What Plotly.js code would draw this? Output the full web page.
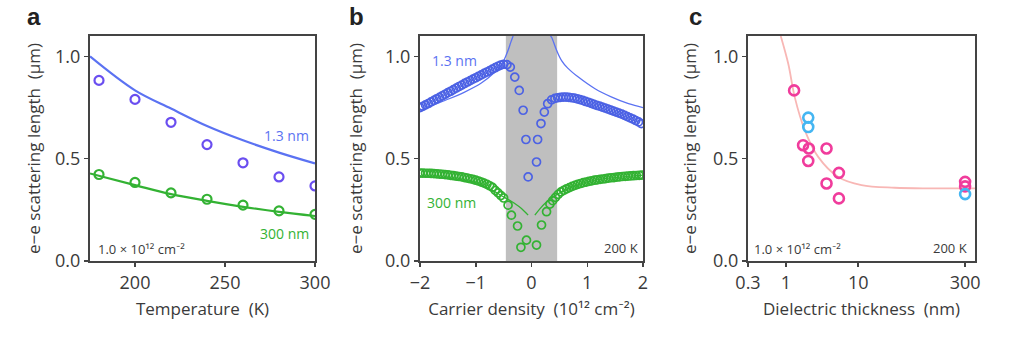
<!DOCTYPE html>
<html>
<head>
<meta charset="utf-8">
<script src="https://cdn.plot.ly/plotly-3.0.1.min.js"></script>
<style>html,body{margin:0;padding:0;background:#fff;}#chart{width:1023px;height:344px;}</style>
</head>
<body>
<div id="chart"></div>
<script>
// ---------- Panel a: temperature dependence ----------
const tempA = [180, 200, 220, 240, 260, 280, 300];
const blueA = [0.883, 0.790, 0.678, 0.569, 0.480, 0.411, 0.367];
const greenA = [0.423, 0.384, 0.333, 0.302, 0.273, 0.245, 0.228];
const fitTempA = [175, 200, 220, 240, 260, 280, 300];
const blueFitA = [1.000, 0.834, 0.745, 0.660, 0.590, 0.530, 0.477];
const greenFitA = [0.428, 0.371, 0.327, 0.294, 0.265, 0.240, 0.220];
const tickTempA = [200, 250, 300];

// ---------- Panel b: carrier density dependence ----------
const densBlueB = [-2.00,-1.95,-1.90,-1.85,-1.80,-1.75,-1.70,-1.65,-1.60,-1.55,-1.50,-1.45,-1.40,-1.35,-1.30,-1.25,-1.20,-1.15,-1.10,-1.05,-1.00,-0.95,-0.90,-0.85,-0.80,-0.75,-0.70,-0.65,-0.60,-0.55,-0.50,
  -0.44,-0.38,-0.30,-0.22,-0.15,-0.10,-0.06,0.09,0.11,0.17,0.23,0.29,0.36,
  0.42,0.47,0.52,0.57,0.62,0.67,0.72,0.77,0.82,0.87,0.92,0.97,1.02,1.07,1.12,1.17,1.22,1.27,1.32,1.37,1.42,1.47,1.52,1.57,1.62,1.67,1.72,1.77,1.82,1.87,1.92,1.97];
const lenBlueB = [0.750,0.756,0.763,0.770,0.778,0.785,0.793,0.800,0.808,0.815,0.823,0.830,0.838,0.845,0.853,0.860,0.868,0.875,0.882,0.889,0.896,0.903,0.910,0.917,0.924,0.931,0.938,0.945,0.952,0.958,0.962,
  0.960,0.948,0.899,0.834,0.737,0.594,0.411,0.484,0.594,0.672,0.728,0.769,0.788,
  0.795,0.798,0.800,0.801,0.801,0.800,0.798,0.796,0.793,0.789,0.785,0.780,0.776,0.771,0.766,0.761,0.757,0.752,0.748,0.743,0.738,0.733,0.728,0.723,0.718,0.712,0.706,0.700,0.694,0.687,0.680,0.672];
const densGreenB = [-2.00,-1.95,-1.90,-1.85,-1.80,-1.75,-1.70,-1.65,-1.60,-1.55,-1.50,-1.45,-1.40,-1.35,-1.30,-1.25,-1.20,-1.15,-1.10,-1.05,-1.00,-0.95,-0.90,-0.85,-0.80,-0.75,-0.70,-0.65,-0.60,-0.55,-0.50,
  -0.42,-0.36,-0.25,-0.19,-0.09,0.09,0.18,0.27,
  0.33,0.38,0.43,0.48,0.53,0.58,0.63,0.68,0.73,0.78,0.83,0.88,0.93,0.98,1.03,1.08,1.13,1.18,1.23,1.28,1.33,1.38,1.43,1.48,1.53,1.58,1.63,1.68,1.73,1.78,1.83,1.88,1.93,1.98];
const lenGreenB = [0.430,0.430,0.429,0.429,0.428,0.427,0.426,0.425,0.424,0.422,0.421,0.419,0.417,0.415,0.413,0.411,0.408,0.405,0.402,0.399,0.395,0.391,0.386,0.381,0.375,0.368,0.360,0.345,0.333,0.320,0.308,
  0.273,0.224,0.171,0.067,0.102,0.078,0.176,0.241,
  0.278,0.295,0.311,0.326,0.338,0.346,0.353,0.359,0.365,0.370,0.375,0.379,0.383,0.386,0.389,0.392,0.395,0.397,0.399,0.401,0.403,0.405,0.407,0.408,0.410,0.411,0.413,0.414,0.415,0.416,0.417,0.418,0.419,0.420];
const fitDensBlueLeft = [-2.00,-1.60,-1.20,-0.90,-0.66,-0.55,-0.48,-0.42,-0.37,-0.33];
const fitBlueLeft = [0.737,0.780,0.826,0.870,0.923,0.955,0.990,1.030,1.070,1.100];
const fitDensBlueRight = [0.34,0.36,0.45,0.54,0.65,0.84,1.14,1.44,1.74,2.00];
const fitBlueRight = [1.100,1.094,1.030,0.980,0.943,0.899,0.842,0.801,0.769,0.750];
const fitDensGreenLeft = [-2.00,-1.50,-1.00,-0.70,-0.53,-0.40,-0.30,-0.18,-0.06];
const fitGreenLeft = [0.415,0.405,0.383,0.345,0.318,0.298,0.281,0.257,0.224];
const fitDensGreenRight = [0.06,0.15,0.24,0.38,0.54,0.80,1.14,1.50,2.00];
const fitGreenRight = [0.224,0.255,0.281,0.312,0.338,0.370,0.395,0.408,0.420];
const gapEdgesB = [-0.46, 0.46];
const tickDensB = [-2, -1, 0, 1, 2];

// ---------- Panel c: dielectric thickness dependence ----------
const thickPink = [1.30, 1.73, 2.08, 2.04, 3.65, 3.65, 5.41, 5.41, 300, 300];
const lenPink = [0.834, 0.566, 0.550, 0.489, 0.550, 0.379, 0.431, 0.306, 0.387, 0.365];
const thickCyan = [2.04, 2.04, 300];
const lenCyan = [0.701, 0.655, 0.327];
const fitThickC = [0.85, 1.08, 1.33, 1.83, 2.8, 5.3, 11.1, 32, 100, 411];
const fitLenC = [1.10, 0.964, 0.800, 0.639, 0.509, 0.411, 0.371, 0.358, 0.355, 0.355];
const tickThickC = [0.3, 1, 10, 300];
const tickThickCText = ['0.3', '1', '10', '300'];

const tickLen = [0, 0.5, 1.0];

// ---------- layout helpers ----------
const W = 1023, H = 344;
const px = v => v / W;
const py = v => 1 - v / H;
const yDom = [py(261), py(36)];
const FONT = '"Open Sans", Lato, "DejaVu Sans", sans-serif';
const TXT = '#3a3a3a';
const AXC = '#444444';

const BLUE_PTS_A = '#6a4ef0';
const BLUE_LINE = '#5b72f2';
const BLUE_PTS_B = '#4c62e4';
const GREEN = '#33b233';
const PINK = '#f03c9c';
const CYAN = '#45b6f2';
const FIT_PINK = '#f8b7b5';

function circ(x, y, xa, ya, color, size, w) {
  return {x: x, y: y, xaxis: xa, yaxis: ya, type: 'scatter', mode: 'markers',
    marker: {symbol: 'circle-open', size: size, color: color, line: {color: color, width: w}},
    showlegend: false, hoverinfo: 'skip'};
}
function line(x, y, xa, ya, color, w) {
  return {x: x, y: y, xaxis: xa, yaxis: ya, type: 'scatter', mode: 'lines',
    line: {color: color, width: w, shape: 'spline', smoothing: 1.0},
    showlegend: false, hoverinfo: 'skip', cliponaxis: true};
}

const data = [
  line(fitTempA, blueFitA, 'x', 'y', BLUE_LINE, 2.2),
  line(fitTempA, greenFitA, 'x', 'y', GREEN, 2.2),
  circ(tempA, blueA, 'x', 'y', BLUE_PTS_A, 9, 2.2),
  circ(tempA, greenA, 'x', 'y', GREEN, 9, 2.2),

  line(fitDensBlueLeft, fitBlueLeft, 'x2', 'y2', BLUE_LINE, 1.3),
  line(fitDensBlueRight, fitBlueRight, 'x2', 'y2', BLUE_LINE, 1.3),
  line(fitDensGreenLeft, fitGreenLeft, 'x2', 'y2', GREEN, 1.3),
  line(fitDensGreenRight, fitGreenRight, 'x2', 'y2', GREEN, 1.3),
  circ(densBlueB, lenBlueB, 'x2', 'y2', BLUE_PTS_B, 8, 1.7),
  circ(densGreenB, lenGreenB, 'x2', 'y2', GREEN, 8, 1.7),

  line(fitThickC, fitLenC, 'x3', 'y3', FIT_PINK, 1.8),
  circ(thickPink, lenPink, 'x3', 'y3', PINK, 10, 2.6),
  circ(thickCyan, lenCyan, 'x3', 'y3', CYAN, 10, 2.6)
];

function xax(domain, range, extra) {
  return Object.assign({
    domain: domain, range: range, showgrid: false, zeroline: false,
    showline: true, mirror: true, linecolor: AXC, linewidth: 2.2,
    ticks: 'outside', ticklen: 4, tickwidth: 1.5, tickcolor: AXC,
    tickfont: {family: FONT, size: 18, color: TXT}
  }, extra);
}
function yTitle(standoff) {
  return {text: 'e−e scattering length  (μm)', font: {family: FONT, size: 17, color: TXT}, standoff: standoff};
}
function yax(anchor, standoff) {
  return {
    domain: yDom, range: [0, 1.1], anchor: anchor, showgrid: false, zeroline: false,
    showline: true, mirror: true, linecolor: AXC, linewidth: 2.2,
    ticks: 'outside', ticklen: 4, tickwidth: 1.5, tickcolor: AXC,
    tickvals: tickLen, tickformat: '.1f',
    tickfont: {family: FONT, size: 18, color: TXT}, title: yTitle(standoff)
  };
}

const xTitleFont = {family: FONT, size: 17, color: TXT};

const ann = [];
function txt(x, y, text, color, size, xanchor, extra) {
  ann.push(Object.assign({xref: 'paper', yref: 'paper', x: px(x), y: py(y), text: text, showarrow: false,
    xanchor: xanchor, yanchor: 'middle', font: {family: FONT, size: size, color: color}}, extra || {}));
}
const LETTER = {family: 'Liberation Sans, Arial, sans-serif', size: 24, color: '#222'};
// panel letters
txt(34, 17, '<b>a</b>', '#222', 24, 'center', {font: LETTER});
txt(356, 17, '<b>b</b>', '#222', 24, 'center', {font: LETTER});
txt(695, 17, '<b>c</b>', '#222', 24, 'center', {font: LETTER});
// panel a labels
txt(311, 135, '1.3 nm', BLUE_LINE, 14, 'right');
txt(311, 233, '300 nm', GREEN, 14, 'right');
txt(96, 249, '1.0 × 10¹² cm⁻²', TXT, 13, 'left');
// panel b labels
txt(430, 61, '1.3 nm', BLUE_LINE, 14, 'left');
txt(425, 202, '300 nm', GREEN, 14, 'left');
txt(640, 248, '200 K', TXT, 13, 'right');
// panel c labels
txt(752, 249, '1.0 × 10¹² cm⁻²', TXT, 13, 'left');
txt(969, 248, '200 K', TXT, 13, 'right');

const layout = {
  width: W, height: H, margin: {l: 0, r: 0, t: 0, b: 0},
  paper_bgcolor: '#fff', plot_bgcolor: '#fff', showlegend: false,
  font: {family: FONT, color: TXT},
  xaxis: xax([px(90), px(315)], [175, 300], {anchor: 'y', tickvals: tickTempA,
    title: {text: 'Temperature  (K)', font: xTitleFont, standoff: 10}}),
  yaxis: yax('x', 10),
  xaxis2: xax([px(420), px(643)], [-2, 2], {anchor: 'y2', tickvals: tickDensB,
    title: {text: 'Carrier density  (10¹² cm⁻²)', font: xTitleFont, standoff: 10}}),
  yaxis2: yax('x2', 18),
  xaxis3: xax([px(748), px(975)], [Math.log10(0.3), Math.log10(411)], {anchor: 'y3', type: 'log',
    tickvals: tickThickC, ticktext: tickThickCText,
    title: {text: 'Dielectric thickness  (nm)', font: xTitleFont, standoff: 10}}),
  yaxis3: yax('x3', 12),
  shapes: [{type: 'rect', xref: 'x2', yref: 'y2 domain', x0: gapEdgesB[0], x1: gapEdgesB[1], y0: 0, y1: 1,
    fillcolor: '#bfbfbf', line: {width: 0}, layer: 'below'}],
  annotations: ann
};

Plotly.newPlot('chart', data, layout, {staticPlot: true, displayModeBar: false}).then(function (gd) {
  gd.querySelectorAll('text').forEach(function (t) {
    if (!t.textContent || !t.textContent.trim()) t.parentNode.removeChild(t);
  });
});
</script>
</body>
</html>
